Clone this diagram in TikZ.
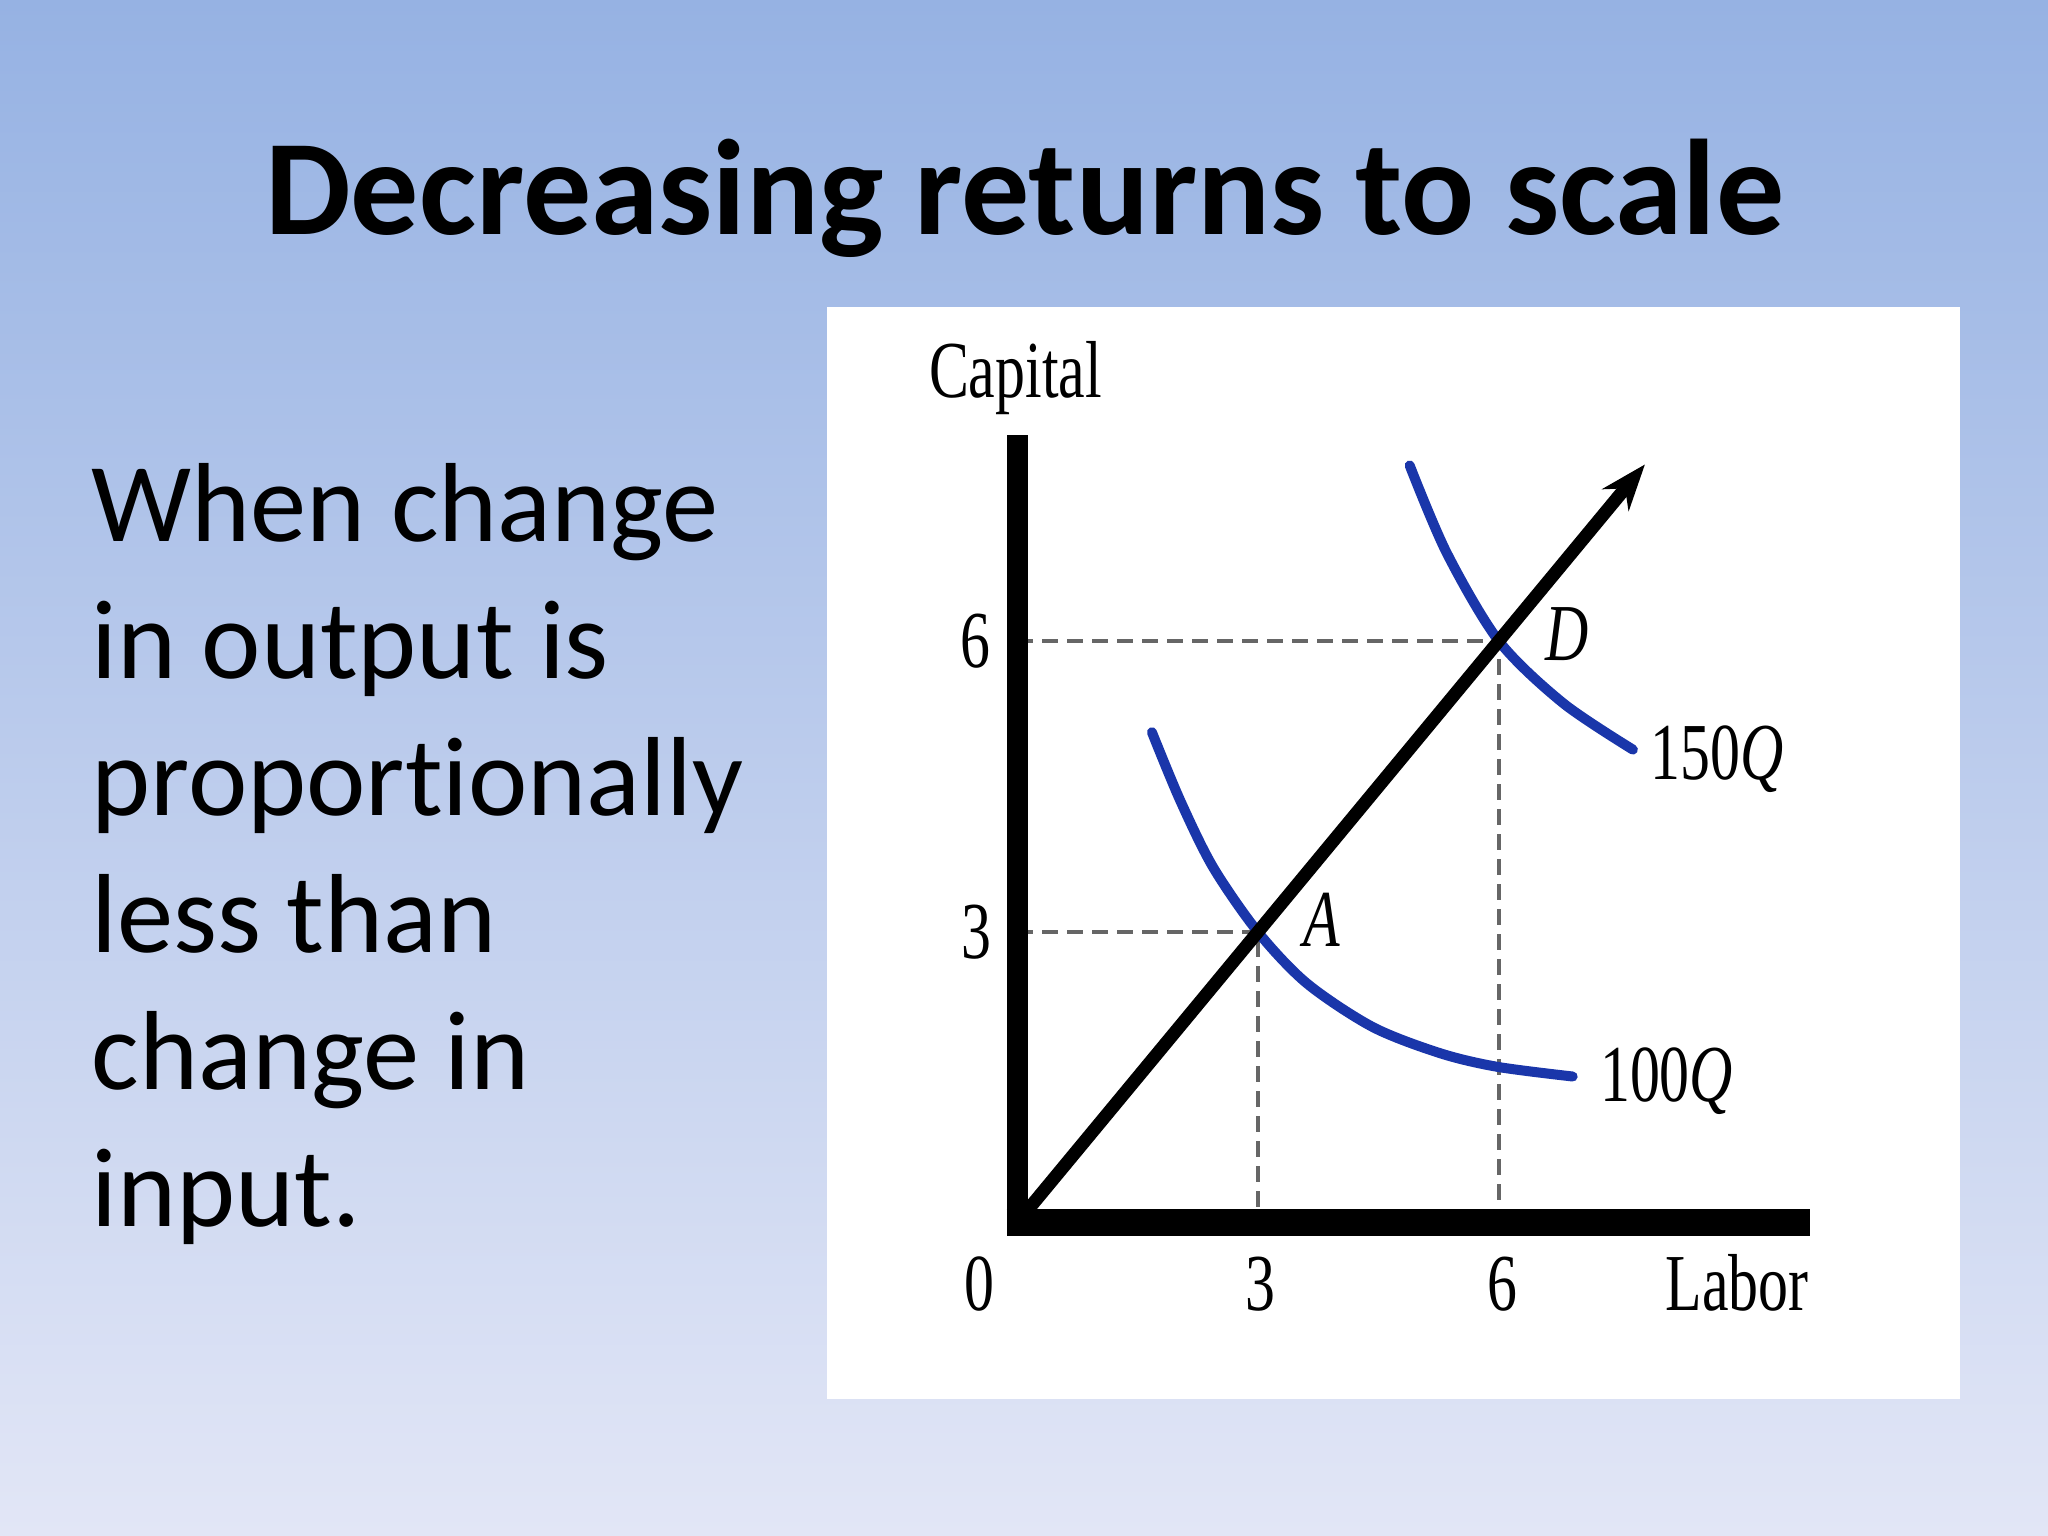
\documentclass[tikz,border=0pt]{standalone}
\usepackage{fontspec}
\newfontfamily\slidefont[Ligatures=NoCommon]{Carlito}
\newfontfamily\graphfont[FakeStretch=0.74]{Liberation Serif}
\usetikzlibrary{arrows.meta}
\definecolor{slidetop}{RGB}{150,178,227}
\definecolor{slidebot}{RGB}{226,230,246}
\definecolor{isoblue}{RGB}{26,54,170}

\begin{document}
\begin{tikzpicture}[
  axisline/.style={line width=0.21cm},
  ray/.style={line width=0.13cm, -{Stealth[length=0.46cm, width=0.34cm]}},
  isoquant/.style={draw=isoblue, line width=0.1cm, line cap=round},
  guide/.style={draw=gray!80!black, line width=0.035cm,
                dash pattern=on 0.16cm off 0.09cm},
  lbl/.style={font=\graphfont\fontsize{23}{26}\selectfont, inner sep=0pt, anchor=base}
]
  % Slide
  \shade[top color=slidetop, bottom color=slidebot] (0,0) rectangle (20.48,15.36);
  \useasboundingbox (0,0) rectangle (20.48,15.36);

  \node[anchor=base, font=\slidefont\bfseries\fontsize{38.7}{44}\selectfont] (title)
    at (10.25,13.01) {Decreasing returns to scale};
  \node[anchor=base west, align=left, inner sep=0pt,
        font=\slidefont\fontsize{32}{39}\selectfont] (body) at (0.91,3.09)
    {When change\\in output is\\proportionally\\less than\\change in\\input.};

  % Graph panel
  \fill[white] (8.27,1.37) rectangle (19.60,12.29);

  \begin{scope}[shift={(10.17,3.13)}, x=0.803cm, y=0.97cm]
    \coordinate (O) at (0,0);
    \coordinate (A) at (3,3);
    \coordinate (D) at (6,6);
    \coordinate (tip) at (7.82,7.82);

    % Guides
    \draw[guide] (0,3) -- (A) -- (3,0);
    \draw[guide] (0,6) -- (D) -- (6,0);

    % Isoquants
    \draw[isoquant] plot[smooth] coordinates
      {(1.68,5.06) (2.03,4.36) (2.44,3.67) (3,3) (3.61,2.47) (4.43,2.02)
       (5.27,1.75) (5.98,1.61) (6.92,1.51)};
    \draw[isoquant] plot[smooth] coordinates
      {(4.89,7.81) (5.35,6.91) (6,6) (6.8,5.36) (7.67,4.88)};

    % Expansion path
    \draw[ray] (O) -- (tip);

    % Axes
    \draw[axisline] (0,8.12) -- (0,0);
    \draw[axisline, line width=0.27cm] (-0.13,0) -- (9.88,0);

    \node[lbl] (capital) at (-0.02,8.51) {Capital};
    \node[lbl] (x0) at (-0.47,-0.90) {0};
    \node[lbl] (x3) at (3.03,-0.90) {3};
    \node[lbl] (x6) at (6.04,-0.90) {6};
    \node[lbl] (labor) at (8.97,-0.90) {Labor};
    \node[lbl] (y6) at (-0.52,5.73) {6};
    \node[lbl] (y3) at (-0.50,2.73) {3};
    \node[lbl] (labA) at (3.80,2.85) {\itshape A};
    \node[lbl] (labD) at (6.85,5.80) {\itshape D};
    \node[lbl] (q150) at (8.72,4.57) {150\textit{Q}};
    \node[lbl] (q100) at (8.09,1.25) {100\textit{Q}};
  \end{scope}
\end{tikzpicture}
\end{document}
